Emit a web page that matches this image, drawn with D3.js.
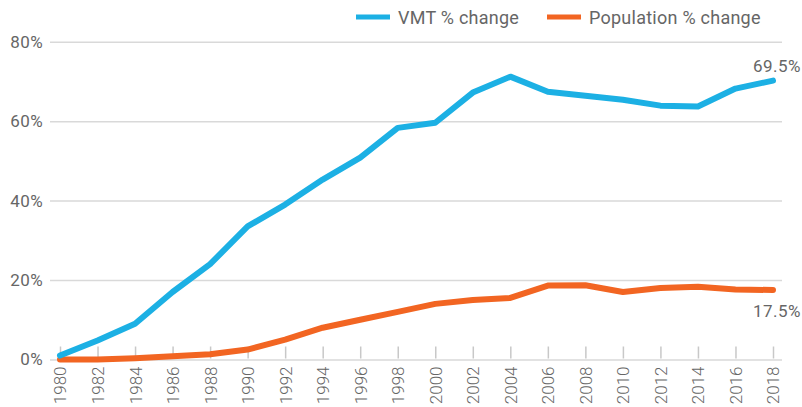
<!DOCTYPE html>
<html>
<head>
<meta charset="utf-8">
<script src="https://cdn.jsdelivr.net/npm/d3@7"></script>
<style>
  body { margin: 0; background: #fff; }
  text { font-family: Roboto, "DejaVu Sans", sans-serif; fill: #666; }
</style>
</head>
<body>
<svg></svg>
<script>
var years = [1980, 1982, 1984, 1986, 1988, 1990, 1992, 1994, 1996, 1998,
  2000, 2002, 2004, 2006, 2008, 2010, 2012, 2014, 2016, 2018]
var vmt = [1, 4.8, 9, 17, 24, 33.5, 39, 45.3, 50.8, 58.3,
  59.6, 67.2, 71.2, 67.4, 66.4, 65.4, 63.9, 63.7, 68.2, 70.2]
var population = [0, 0, 0.3, 0.8, 1.3, 2.5, 5, 8, 10, 12,
  14, 15, 15.5, 18.6, 18.7, 17, 18, 18.3, 17.6, 17.5]
var yTicks = [0, 20, 40, 60, 80]
var seriesNames = ['VMT % change', 'Population % change']
var endLabels = ['69.5%', '17.5%']

var width = 802
var height = 407
var blue = '#1cb0e4'
var orange = '#f26522'

var svg = d3.select('svg').attr('width', width).attr('height', height)

var x = d3.scalePoint().domain(years).range([60, 773])
var y = d3.scaleLinear().domain([0, 80]).range([359.5, 41.7])

// gridlines + y labels
var yAxis = d3.axisLeft(y)
  .tickValues(yTicks)
  .tickSize(-732)
  .tickFormat(function(d) { return d + '%' })
var gy = svg.append('g')
  .attr('transform', 'translate(50,0)')
  .call(yAxis)
gy.select('.domain').remove()
gy.selectAll('line').attr('stroke', '#d9d9d9').attr('stroke-width', 1.5)
gy.selectAll('text')
  .attr('x', -7)
  .attr('font-size', 17)
  .attr('letter-spacing', 0.4)
  .style('fill', '#666')

// x axis ticks (upward) and rotated year labels
var xAxis = d3.axisBottom(x).tickSize(-12).tickPadding(0)
var gx = svg.append('g')
  .attr('transform', 'translate(0,' + (y(0) - 1) + ')')
  .call(xAxis)
gx.select('.domain').remove()
gx.selectAll('line').attr('stroke', '#c8c8c8').attr('stroke-width', 1.5)
gx.selectAll('text')
  .attr('transform', 'rotate(-90)')
  .attr('text-anchor', 'end')
  .attr('x', -8)
  .attr('y', 0)
  .attr('dy', '0.35em')
  .attr('font-size', 17)
  .attr('font-weight', 300)
  .style('fill', '#666')

var line = d3.line()
  .x(function(d, i) { return x(years[i]) })
  .y(function(d) { return y(d) })

svg.append('path')
  .datum(population)
  .attr('d', line)
  .attr('fill', 'none')
  .attr('stroke', orange)
  .attr('stroke-width', 6)
  .attr('stroke-linecap', 'round')
  .attr('stroke-linejoin', 'round')

svg.append('path')
  .datum(vmt)
  .attr('d', line)
  .attr('fill', 'none')
  .attr('stroke', blue)
  .attr('stroke-width', 6)
  .attr('stroke-linecap', 'round')
  .attr('stroke-linejoin', 'round')

// end labels
svg.append('text')
  .attr('x', 801)
  .attr('y', y(vmt[vmt.length - 1]) - 9)
  .attr('text-anchor', 'end')
  .attr('font-size', 17)
  .attr('letter-spacing', 0.5)
  .text(endLabels[0])
svg.append('text')
  .attr('x', 801)
  .attr('y', y(population[population.length - 1]) + 27)
  .attr('text-anchor', 'end')
  .attr('font-size', 17)
  .attr('letter-spacing', 0.5)
  .text(endLabels[1])

// legend
var legend = svg.append('g')
var legendX = [356, 547]
var legendColors = [blue, orange]
seriesNames.forEach(function(name, i) {
  legend.append('line')
    .attr('x1', legendX[i]).attr('x2', legendX[i] + 34)
    .attr('y1', 17).attr('y2', 17)
    .attr('stroke', legendColors[i])
    .attr('stroke-width', 5)
  legend.append('text')
    .attr('x', legendX[i] + 42)
    .attr('y', 23.5)
    .attr('font-size', 18)
    .attr('letter-spacing', 0.25)
    .text(name)
})
</script>
</body>
</html>
